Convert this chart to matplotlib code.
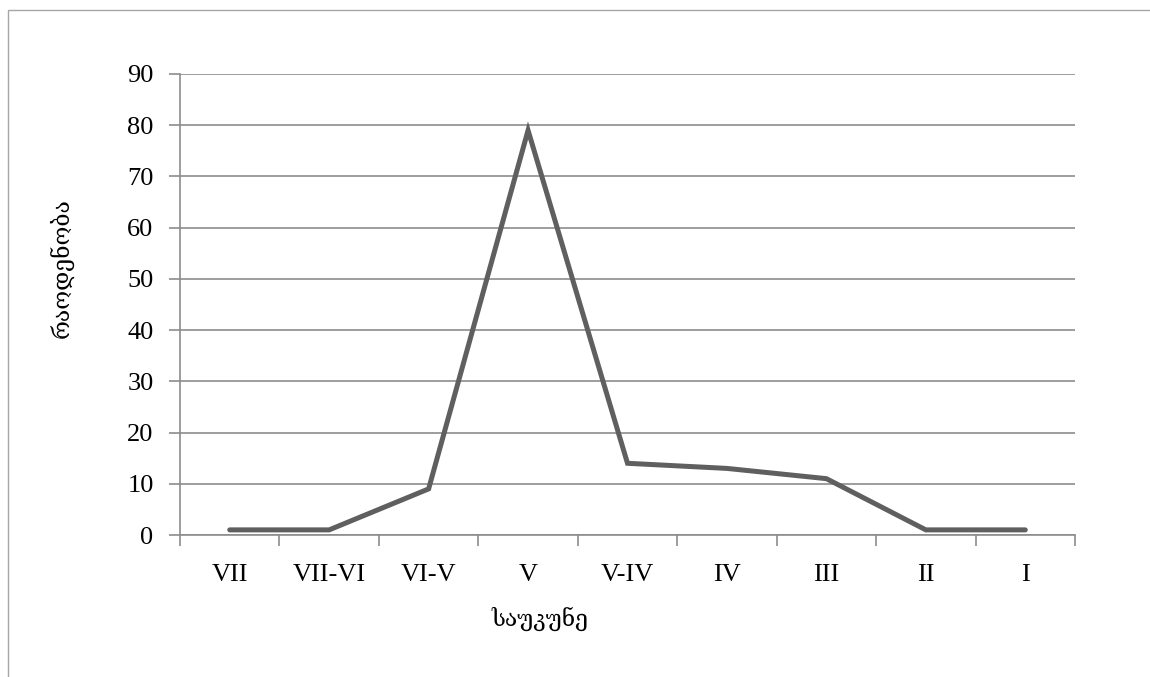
import matplotlib
matplotlib.use("Agg")
import matplotlib.pyplot as plt
import numpy as np
from matplotlib.patches import Rectangle

categories = ["VII", "VII-VI", "VI-V", "V", "V-IV", "IV", "III", "II", "I"]
values = [1, 1, 9, 79, 14, 13, 11, 1, 1]
yticks = [0, 10, 20, 30, 40, 50, 60, 70, 80, 90]
xlabel = "საუკუნე"
ylabel = "რაოდენობა"

fonts = ["Liberation Serif", "DejaVu Serif", "DejaVu Sans"]
plt.rcParams["font.family"] = fonts

W, H = 1150, 677
fig = plt.figure(figsize=(W / 100, H / 100), dpi=100)
fig.patches.append(Rectangle((8 / W, -0.1), 1.2, (1 - 10 / H) + 0.1, transform=fig.transFigure,
                             fill=False, edgecolor="#a6a6a6", linewidth=1.0))

ax = fig.add_axes([180 / W, 1 - 535 / H, (1075 - 180) / W, (535 - 74) / H])
x = np.arange(len(categories))
ax.plot(x, values, color="#5f5f5f", linewidth=3.6, solid_capstyle="round", solid_joinstyle="miter", zorder=3)

ax.set_xlim(-0.5, len(categories) - 0.5)
ax.set_ylim(0, 90)
ax.set_yticks(yticks)
ax.set_yticklabels([str(v) for v in yticks], fontsize=19)
ax.set_xticks(x)
ax.set_xticklabels(categories, fontsize=19)
ax.set_xticks(np.arange(-0.5, len(categories)), minor=True)
ax.tick_params(axis="x", which="major", length=0, pad=21)
ax.tick_params(axis="x", which="minor", length=8, direction="out", color="#8c8c8c", width=1.2)
ax.tick_params(axis="y", length=8, direction="out", color="#8c8c8c", width=1.2, pad=11)

ax.grid(axis="y", color="#8c8c8c", linewidth=1.2)
ax.set_axisbelow(True)
for s in ["top", "right"]:
    ax.spines[s].set_visible(False)
for s in ["left", "bottom"]:
    ax.spines[s].set_color("#8c8c8c")
    ax.spines[s].set_linewidth(1.2)

fig.text(62 / W, 1 - 268 / H, ylabel, rotation=90, ha="center", va="center", fontsize=16.5)
fig.text(540 / W, 1 - 619 / H, xlabel, ha="center", va="center", fontsize=16.5)

fig.savefig("out.png", dpi=100, facecolor="white")
